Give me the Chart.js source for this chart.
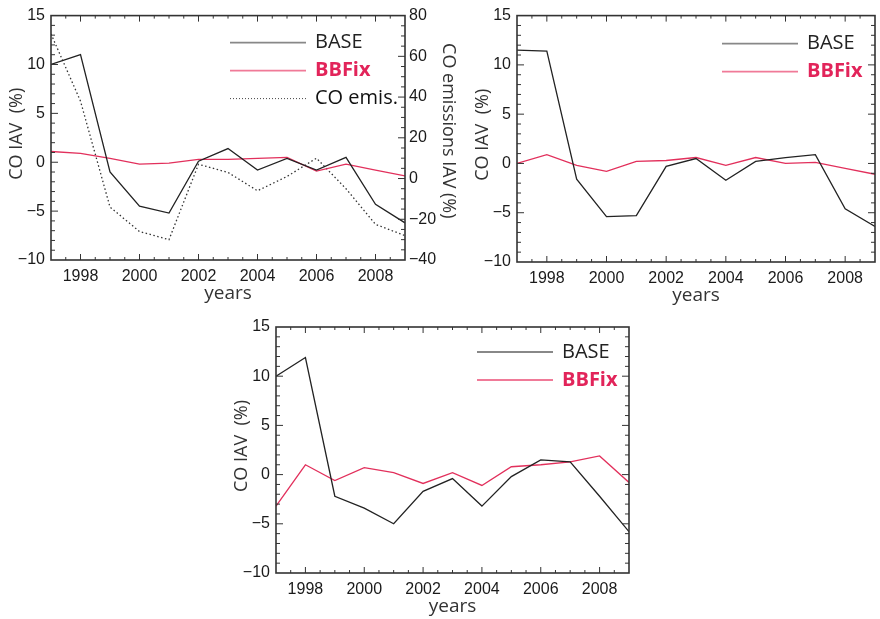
<!DOCTYPE html>
<html>
<head>
<meta charset="utf-8">
<script src="https://cdn.jsdelivr.net/npm/chart.js@4"></script>
<style>
  body { margin: 0; background: #fff; width: 880px; height: 619px; position: relative; overflow: hidden; }
  canvas { position: absolute; }
</style>
</head>
<body>
<canvas id="p1" width="470" height="310" style="left:0;top:0"></canvas>
<canvas id="p2" width="420" height="310" style="left:460px;top:0"></canvas>
<canvas id="p3" width="450" height="309" style="left:200px;top:310px"></canvas>
<script>
// years on the x axis
const years = [1997, 1998, 1999, 2000, 2001, 2002, 2003, 2004, 2005, 2006, 2007, 2008, 2009];
const xTicks = [1998, 2000, 2002, 2004, 2006, 2008];
const yTicks = [-10, -5, 0, 5, 10, 15];
const emisTicks = [-40, -20, 0, 20, 40, 60, 80];

// panel 1 (top left)
const base1  = [10.0, 11.0, -1.0, -4.5, -5.2, 0.1, 1.4, -0.8, 0.4, -0.8, 0.5, -4.3, -6.2];
const bbfix1 = [1.1, 0.9, 0.4, -0.2, -0.1, 0.3, 0.3, 0.4, 0.5, -0.9, -0.2, -0.8, -1.4];
const emis1  = [71, 38, -14, -26, -30, 7, 3, -6, 1, 10, -5, -22.5, -28];

// panel 2 (top right)
const base2  = [11.5, 11.4, -1.6, -5.4, -5.3, -0.3, 0.5, -1.7, 0.2, 0.6, 0.9, -4.6, -6.4];
const bbfix2 = [0.0, 0.9, -0.2, -0.8, 0.2, 0.3, 0.6, -0.2, 0.6, 0.0, 0.1, -0.5, -1.1];

// panel 3 (bottom)
const base3  = [10.0, 11.9, -2.2, -3.4, -5.0, -1.7, -0.4, -3.2, -0.2, 1.5, 1.3, -2.2, -5.8];
const bbfix3 = [-3.2, 1.0, -0.6, 0.7, 0.2, -0.9, 0.2, -1.1, 0.8, 1.0, 1.3, 1.9, -0.8];

const BLACK = '#222';
const RED = '#e2305c';
const tickFont = { family: '"Liberation Sans", Arial, sans-serif', size: 16 };
const minus = v => (v < 0 ? '\u2212' + Math.abs(v) : String(v));

// frame with inward ticks, axis titles and the legend
const framePlugin = {
  id: 'frame',
  afterDraw(chart, args, o) {
    const { ctx, chartArea: a, scales } = chart;
    ctx.save();
    ctx.strokeStyle = '#333';
    const seg = (x1, y1, x2, y2) => { ctx.beginPath(); ctx.moveTo(x1, y1); ctx.lineTo(x2, y2); ctx.stroke(); };

    ctx.lineWidth = 1;
    const xs = scales.x;
    for (let v = xs.min + 0.5; v < xs.max; v += 0.5) {
      const px = xs.getPixelForValue(v);
      const len = v % 2 === 0 ? 6 : 3;
      seg(px, a.bottom, px, a.bottom - len);
      seg(px, a.top, px, a.top + len);
    }
    const ys = scales.y;
    for (let v = ys.min + 1; v < ys.max; v++) {
      const py = ys.getPixelForValue(v);
      const len = v % 5 === 0 ? 7 : 4;
      seg(a.left, py, a.left + len, py);
      if (!scales.y2) seg(a.right, py, a.right - len, py);
    }
    if (scales.y2) {
      const s = scales.y2;
      for (let v = s.min + 5; v < s.max; v += 5) {
        const py = s.getPixelForValue(v);
        const len = v % 20 === 0 ? 7 : 4;
        seg(a.right, py, a.right - len, py);
      }
    }
    ctx.lineWidth = 1.6;
    ctx.strokeRect(a.left, a.top, a.width, a.height);

    // axis titles
    ctx.fillStyle = '#333';
    ctx.font = '19px "Open Sans", sans-serif';
    ctx.textAlign = 'center';
    ctx.textBaseline = 'middle';
    ctx.fillText('years', (a.left + a.right) / 2, a.bottom + 34);
    ctx.save();
    ctx.translate(a.left - 34, (a.top + a.bottom) / 2 - 4);
    ctx.rotate(-Math.PI / 2);
    ctx.font = '18px "Open Sans", sans-serif';
    ctx.fillText('CO IAV  (%)', 0, 0);
    ctx.restore();
    if (scales.y2) {
      ctx.save();
      ctx.translate(a.right + 43, (a.top + a.bottom) / 2 - 7);
      ctx.rotate(Math.PI / 2);
      ctx.font = '18px "Open Sans", sans-serif';
      ctx.fillText('CO emissions IAV (%)', 0, 0);
      ctx.restore();
    }

    // legend
    const x0 = a.right - o.legendOffset;
    o.items.forEach((it, i) => {
      const y = a.top + o.legendTop + i * 28;
      ctx.strokeStyle = it.line;
      ctx.lineWidth = it.dash ? 1 : 1.8;
      ctx.setLineDash(it.dash || []);
      seg(x0, y, x0 + 76, y);
      ctx.setLineDash([]);
      ctx.fillStyle = it.color;
      ctx.font = (it.bold ? 'bold ' : '') + '20px "Open Sans", sans-serif';
      ctx.textAlign = 'left';
      ctx.fillText(it.text, x0 + 85, y);
    });
    ctx.restore();
  }
};

const legendBase = { text: 'BASE', color: '#222', line: '#888' };
const legendFix = { text: 'BBFix', color: '#e2245a', line: '#f07a98', bold: true };
const legendEmis = { text: 'CO emis.', color: '#111', line: '#444', dash: [1, 2] };

function line(data, color, axis, dash) {
  return {
    data: data, borderColor: color, borderWidth: 1.3, borderDash: dash || [],
    pointRadius: 0, tension: 0, fill: false, yAxisID: axis || 'y'
  };
}

function makePanel(id, datasets, box, extra) {
  const scales = {
    x: {
      type: 'linear', min: 1997, max: 2009,
      afterBuildTicks: s => { s.ticks = xTicks.map(v => ({ value: v })); },
      afterFit: s => { s.height = box.bottom; },
      grid: { display: false, drawTicks: false }, border: { display: false },
      ticks: { font: tickFont, color: '#1a1a1a', padding: 7, maxRotation: 0, autoSkip: false, callback: v => String(v) }
    },
    y: {
      type: 'linear', position: 'left', min: -10, max: 15,
      afterBuildTicks: s => { s.ticks = yTicks.map(v => ({ value: v })); },
      afterFit: s => { s.width = box.left; },
      grid: { display: false, drawTicks: false }, border: { display: false },
      ticks: { font: tickFont, color: '#1a1a1a', padding: 6, callback: minus }
    }
  };
  if (extra) {
    scales.y2 = {
      type: 'linear', position: 'right', min: -40, max: 80,
      afterBuildTicks: s => { s.ticks = emisTicks.map(v => ({ value: v })); },
      afterFit: s => { s.width = box.right; },
      grid: { display: false, drawTicks: false }, border: { display: false },
      ticks: { font: tickFont, color: '#1a1a1a', padding: 4, callback: minus }
    };
  }
  return new Chart(document.getElementById(id), {
    type: 'line',
    data: { labels: years, datasets: datasets.map(d => ({ ...d, data: d.data.map((v, i) => ({ x: years[i], y: v })) })) },
    options: {
      responsive: false,
      animation: false,
      layout: { padding: { top: box.top, right: extra ? 0 : box.right, left: 0, bottom: 0 } },
      plugins: { legend: { display: false }, tooltip: { enabled: false }, frame: box.legend },
      scales: scales
    },
    plugins: [framePlugin]
  });
}

makePanel('p1', [line(base1, BLACK), line(bbfix1, RED), line(emis1, '#333', 'y2', [1.5, 2.5])],
  { left: 51, top: 8, right: 65, bottom: 50, legend: { items: [legendBase, legendFix, legendEmis], legendOffset: 175, legendTop: 27 } }, true);
makePanel('p2', [line(base2, BLACK), line(bbfix2, RED)],
  { left: 57, top: 14, right: 5, bottom: 48, legend: { items: [legendBase, legendFix], legendOffset: 153, legendTop: 28 } }, false);
makePanel('p3', [line(base3, BLACK), line(bbfix3, RED)],
  { left: 76, top: 17, right: 21, bottom: 46, legend: { items: [legendBase, legendFix], legendOffset: 152, legendTop: 25 } }, false);
</script>
</body>
</html>
